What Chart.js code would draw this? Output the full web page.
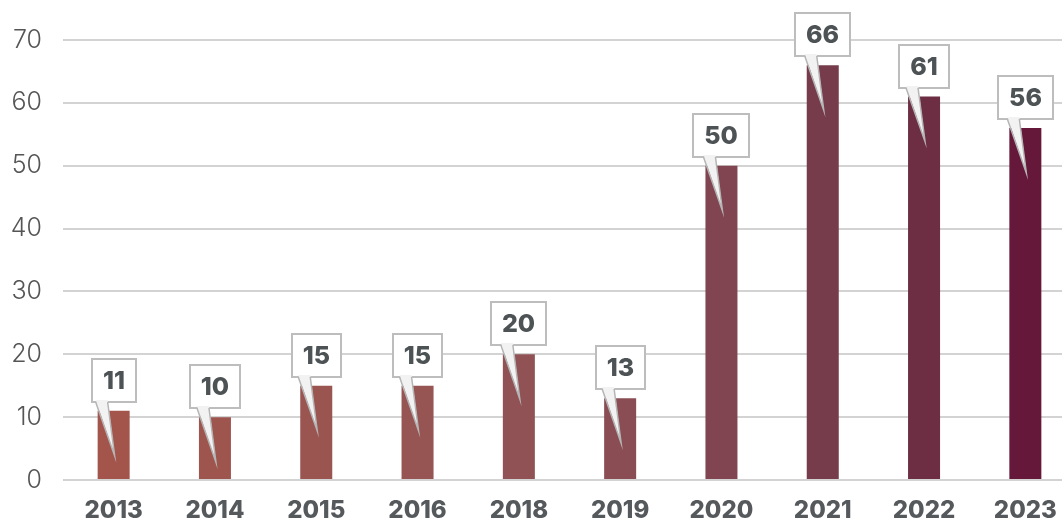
<!DOCTYPE html>
<html>
<head>
<meta charset="utf-8">
<script src="https://cdn.jsdelivr.net/npm/chart.js@4"></script>
<style>
  html, body { margin: 0; padding: 0; background: #ffffff; overflow: hidden; }
  #wrap { width: 1076px; height: 522px; position: relative; }
</style>
</head>
<body>
<div id="wrap"><canvas id="c"></canvas></div>
<script>
const categories = ['2013','2014','2015','2016','2018','2019','2020','2021','2022','2023'];
const values = [11, 10, 15, 15, 20, 13, 50, 66, 61, 56];
const barColors = ['#a3554c','#9e554e','#9a5551','#965453','#905254','#894d53','#804550','#773c4b','#6d2d43','#66183a'];
const yTicks = [0, 10, 20, 30, 40, 50, 60, 70];

const calloutPlugin = {
  id: 'callouts',
  afterDatasetsDraw(chart) {
    const ctx = chart.ctx;
    const meta = chart.getDatasetMeta(0);
    ctx.save();
    ctx.font = '800 25px Inter, "DejaVu Sans", sans-serif';
    meta.data.forEach((bar, i) => {
      const x = bar.x, top = bar.y;
      const txt = String(values[i]);
      const tw = ctx.measureText(txt).width;
      const w = Math.round(tw + 22), h = 43;
      const bx = Math.round(x - w / 2), by = Math.round(top - 9 - h);
      const tipX = x + 1, tipY = top + 45;
      // box
      ctx.fillStyle = '#ffffff';
      ctx.fillRect(bx, by, w, h);
      ctx.lineWidth = 2;
      ctx.strokeStyle = '#bdbdbd';
      ctx.strokeRect(bx, by, w, h);
      // tail
      const b1 = x - 18, b2 = x - 6, baseY = by + h;
      ctx.beginPath();
      ctx.moveTo(b1, baseY - 2);
      ctx.lineTo(tipX, tipY);
      ctx.lineTo(b2, baseY - 2);
      ctx.closePath();
      ctx.fillStyle = '#f2f2f2';
      ctx.fill();
      ctx.beginPath();
      ctx.moveTo(b1, baseY);
      ctx.lineTo(tipX, tipY);
      ctx.lineTo(b2, baseY);
      ctx.strokeStyle = '#b5b5b5';
      ctx.lineWidth = 1.5;
      ctx.stroke();
      // text
      ctx.fillStyle = '#4d5254';
      ctx.textAlign = 'center';
      ctx.textBaseline = 'middle';
      ctx.fillText(txt, bx + w / 2, by + h / 2 + 1);
    });
    ctx.restore();
  }
};

new Chart(document.getElementById('c'), {
  type: 'bar',
  data: {
    labels: categories,
    datasets: [{
      data: values,
      backgroundColor: barColors,
      borderWidth: 0,
      categoryPercentage: 1,
      barPercentage: 0.316
    }]
  },
  options: {
    responsive: true,
    maintainAspectRatio: false,
    animation: false,
    layout: { padding: { top: 40, right: 0, bottom: 0, left: 0 } },
    plugins: { legend: { display: false }, tooltip: { enabled: false } },
    scales: {
      x: {
        grid: { display: false },
        border: { display: false },
        ticks: {
          color: '#55595c',
          padding: 8,
          maxRotation: 0,
          font: { family: 'Inter, "DejaVu Sans", sans-serif', size: 24, weight: '800' }
        },
        afterFit(scale) { scale.height = 42; }
      },
      y: {
        min: 0,
        max: 70,
        afterBuildTicks(scale) { scale.ticks = yTicks.map(v => ({ value: v })); },
        grid: { color: '#d3d3d3', lineWidth: 2, drawTicks: false },
        border: { display: false },
        ticks: {
          color: '#555555',
          padding: 21,
          font: { family: 'Inter, "DejaVu Sans", sans-serif', size: 25, weight: '300' }
        },
        afterFit(scale) { scale.width = 63; }
      }
    }
  },
  plugins: [calloutPlugin]
});
</script>
</body>
</html>
